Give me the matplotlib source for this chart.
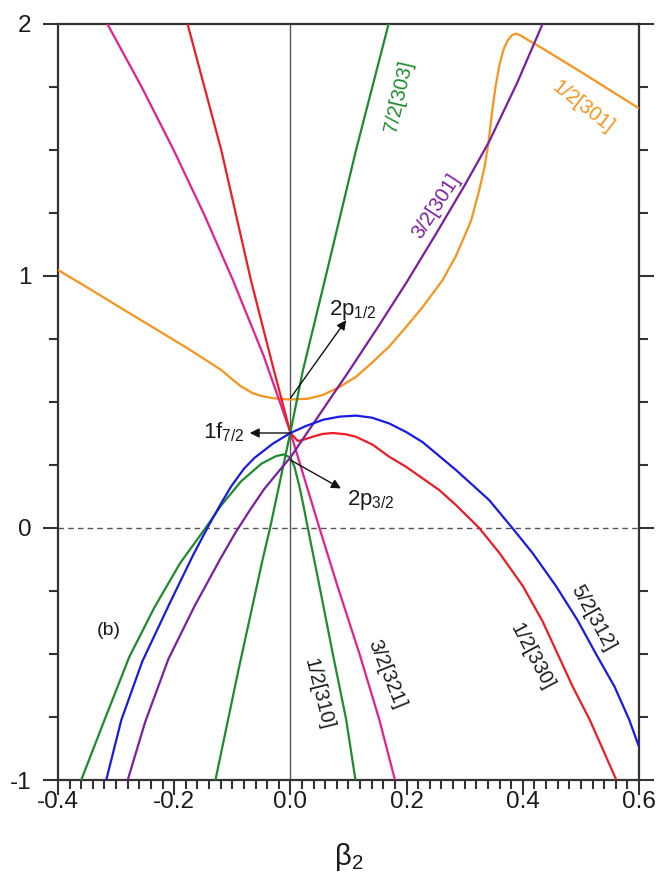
import matplotlib
matplotlib.use("Agg")
import matplotlib.pyplot as plt
from matplotlib.ticker import MultipleLocator, FixedLocator

plt.rcParams['font.family'] = ['Liberation Sans', 'DejaVu Sans']
plt.rcParams['mathtext.default'] = 'regular'

# ---- Nilsson orbitals: single-particle energy vs. deformation beta_2 ----
orange_x = [-0.4, -0.35, -0.291, -0.25, -0.2, -0.177, -0.15, -0.119, -0.1, -0.085, -0.065,
            -0.05, -0.03, -0.016, 0.0, 0.03, 0.056, 0.085, 0.113, 0.14, 0.17, 0.2, 0.228,
            0.262, 0.285, 0.3, 0.311, 0.325, 0.334, 0.341, 0.347, 0.353, 0.36, 0.367, 0.374,
            0.381, 0.388, 0.396, 0.41, 0.429, 0.5, 0.6]
orange_y = [1.024, 0.955, 0.872, 0.815, 0.745, 0.713, 0.673, 0.627, 0.59, 0.562, 0.535,
            0.524, 0.515, 0.512, 0.51, 0.513, 0.528, 0.56, 0.6, 0.655, 0.72, 0.80, 0.878,
            0.984, 1.08, 1.16, 1.22, 1.34, 1.43, 1.53, 1.65, 1.75, 1.84, 1.9, 1.935,
            1.955, 1.962, 1.955, 1.935, 1.91, 1.81, 1.665]

purple_x = [-0.28, -0.25, -0.21, -0.165, -0.12, -0.095, -0.07, -0.045, -0.02, 0.0, 0.05, 0.1,
            0.15, 0.2, 0.25, 0.3, 0.342, 0.39, 0.434]
purple_y = [-1.0, -0.77, -0.52, -0.31, -0.12, -0.02, 0.07, 0.155, 0.225, 0.28, 0.45, 0.62,
            0.795, 0.975, 1.165, 1.36, 1.533, 1.765, 2.0]

blue_x = [-0.317, -0.291, -0.255, -0.208, -0.168, -0.143, -0.12, -0.102, -0.08, -0.062, -0.03,
          0.0, 0.027, 0.057, 0.085, 0.113, 0.14, 0.17, 0.2, 0.228, 0.285, 0.342, 0.382, 0.417,
          0.457, 0.494, 0.526, 0.558, 0.583, 0.6]
blue_y = [-1.0, -0.762, -0.53, -0.30, -0.11, 0.0, 0.095, 0.165, 0.235, 0.278, 0.335,
          0.377, 0.405, 0.43, 0.442, 0.446, 0.438, 0.415, 0.38, 0.34, 0.23, 0.111, 0.0, -0.1,
          -0.23, -0.365, -0.5, -0.63, -0.76, -0.868]

red_x = [-0.177, -0.119, -0.068, -0.03, 0.0, 0.013, 0.025, 0.038, 0.055, 0.073, 0.095, 0.113,
         0.142, 0.17, 0.199, 0.256, 0.285, 0.325, 0.36, 0.4, 0.434, 0.46, 0.486, 0.515,
         0.54, 0.561]
red_y = [2.0, 1.5, 0.984, 0.64, 0.377, 0.345, 0.352, 0.362, 0.373, 0.377, 0.372, 0.362,
         0.33, 0.283, 0.243, 0.151, 0.091, 0.0, -0.1, -0.23, -0.37, -0.5, -0.63, -0.76,
         -0.89, -1.0]

magenta_x = [-0.315, -0.256, -0.201, -0.148, -0.099, -0.046, 0.0, 0.025, 0.05, 0.081, 0.119,
             0.153, 0.18]
magenta_y = [2.0, 1.75, 1.5, 1.242, 0.984, 0.683, 0.38, 0.19, 0.0, -0.23, -0.5, -0.76, -1.0]

green303_x = [-0.129, -0.09, -0.048, -0.035, 0.0, 0.021, 0.061, 0.113, 0.169]
green303_y = [-1.0, -0.57, -0.127, 0.0, 0.38, 0.62, 1.0, 1.5, 2.0]

green310_x = [-0.36, -0.32, -0.277, -0.234, -0.19, -0.146, -0.119, -0.085, -0.05, -0.025,
              -0.012, 0.0, 0.007, 0.016, 0.024, 0.03, 0.05, 0.073, 0.096, 0.112]
green310_y = [-1.0, -0.762, -0.51, -0.315, -0.14, 0.0, 0.09, 0.185, 0.255, 0.285,
              0.292, 0.28, 0.243, 0.16, 0.071, 0.0, -0.23, -0.5, -0.76, -1.0]

x_ticks = [-0.4, -0.2, 0.0, 0.2, 0.4, 0.6]
x_tick_labels = ['-0.4', '-0.2', '0.0', '0.2', '0.4', '0.6']
y_ticks = [-1, 0, 1, 2]
y_tick_labels = ['-1', '0', '1', '2']

C_ORANGE = '#F7941D'
C_PURPLE = '#7B1FA2'
C_BLUE = '#1A1AE6'
C_RED = '#EE1C25'
C_MAGENTA = '#E6208C'
C_GREEN = '#1E8B2E'
AXIS = '#333333'
INK = '#1a1a1a'

fig = plt.figure(figsize=(6.56, 8.8), dpi=100)
ax = fig.add_axes([58 / 656, 100 / 880, 581 / 656, 756 / 880])

ax.axvline(0.0, color='#555555', lw=1.0, zorder=1)
ax.axhline(0.0, color='#555555', lw=1.0, ls=(0, (4, 3)), zorder=1)

lw = 1.6
style = dict(lw=lw, zorder=3, solid_joinstyle='round', solid_capstyle='round')
ax.plot(orange_x, orange_y, color=C_ORANGE, **style)
ax.plot(magenta_x, magenta_y, color=C_MAGENTA, **style)
ax.plot(red_x, red_y, color=C_RED, **style)
ax.plot(green303_x, green303_y, color=C_GREEN, **style)
ax.plot(green310_x, green310_y, color=C_GREEN, **style)
ax.plot(purple_x, purple_y, color=C_PURPLE, **style)
ax.plot(blue_x, blue_y, color=C_BLUE, **style)

ax.set_xlim(-0.4, 0.6)
ax.set_ylim(-1, 2)

# spines and ticks
for side in ['left', 'right', 'top', 'bottom']:
    ax.spines[side].set_color(AXIS)
    ax.spines[side].set_linewidth(1.6)

ax.xaxis.set_major_locator(FixedLocator(x_ticks))
ax.set_xticklabels(x_tick_labels)
ax.xaxis.set_minor_locator(MultipleLocator(0.02))
ax.yaxis.set_major_locator(FixedLocator(y_ticks))
ax.set_yticklabels(y_tick_labels)
ax.yaxis.set_minor_locator(MultipleLocator(0.25))

ax.tick_params(axis='x', which='both', direction='out', top=False, bottom=True,
               color=AXIS, width=1.5, labelsize=17.5, labelcolor=INK)
ax.tick_params(axis='x', which='major', length=11, pad=-3)
ax.tick_params(axis='x', which='minor', length=6.5)
ax.tick_params(axis='y', which='both', direction='out', left=True, right=True,
               labelleft=True, labelright=False, color=AXIS, width=1.5,
               labelsize=17.5, labelcolor=INK)
ax.tick_params(axis='y', which='major', length=11, pad=8)
ax.tick_params(axis='y', which='minor', length=6.5)

ax.set_xlabel('β$_2$', fontsize=21, labelpad=20, color=INK)

# level labels
lab_fs = 14.5
ax.text(0.186, 1.714, '7/2[303]', color=C_GREEN, fontsize=lab_fs, rotation=77,
        ha='center', va='center', rotation_mode='anchor')
ax.text(0.251, 1.278, '3/2[301]', color=C_PURPLE, fontsize=lab_fs, rotation=57,
        ha='center', va='center', rotation_mode='anchor')
ax.text(0.504, 1.67, '1/2[301]', color=C_ORANGE, fontsize=lab_fs, rotation=-38,
        ha='center', va='center', rotation_mode='anchor')
ax.text(0.521, -0.357, '5/2[312]', color=INK, fontsize=lab_fs, rotation=-61,
        ha='center', va='center', rotation_mode='anchor')
ax.text(0.415, -0.512, '1/2[330]', color=INK, fontsize=lab_fs, rotation=-62,
        ha='center', va='center', rotation_mode='anchor')
ax.text(0.165, -0.579, '3/2[321]', color=INK, fontsize=lab_fs, rotation=-68,
        ha='center', va='center', rotation_mode='anchor')
ax.text(0.048, -0.659, '1/2[310]', color=INK, fontsize=lab_fs, rotation=-76,
        ha='center', va='center', rotation_mode='anchor')
ax.text(-0.312, -0.405, '(b)', color=INK, fontsize=14, ha='center', va='center')

# spherical-limit orbitals
arrow = dict(arrowstyle='-|>', color='#111111', lw=1.0, mutation_scale=14,
             shrinkA=0, shrinkB=0)
ax.annotate('', xy=(0.096, 0.825), xytext=(0.0, 0.515), arrowprops=arrow, zorder=5)
ax.text(0.066, 0.845, '2p$_{1/2}$', fontsize=16, color=INK, ha='left', va='baseline')
ax.annotate('', xy=(-0.07, 0.377), xytext=(0.0, 0.377), arrowprops=arrow, zorder=5)
ax.text(-0.079, 0.381, '1f$_{7/2}$', fontsize=16, color=INK, ha='right', va='center')
ax.annotate('', xy=(0.087, 0.157), xytext=(0.0, 0.27), arrowprops=arrow, zorder=5)
ax.text(0.097, 0.11, '2p$_{3/2}$', fontsize=16, color=INK, ha='left', va='center')

fig.savefig('out.png', dpi=100)
